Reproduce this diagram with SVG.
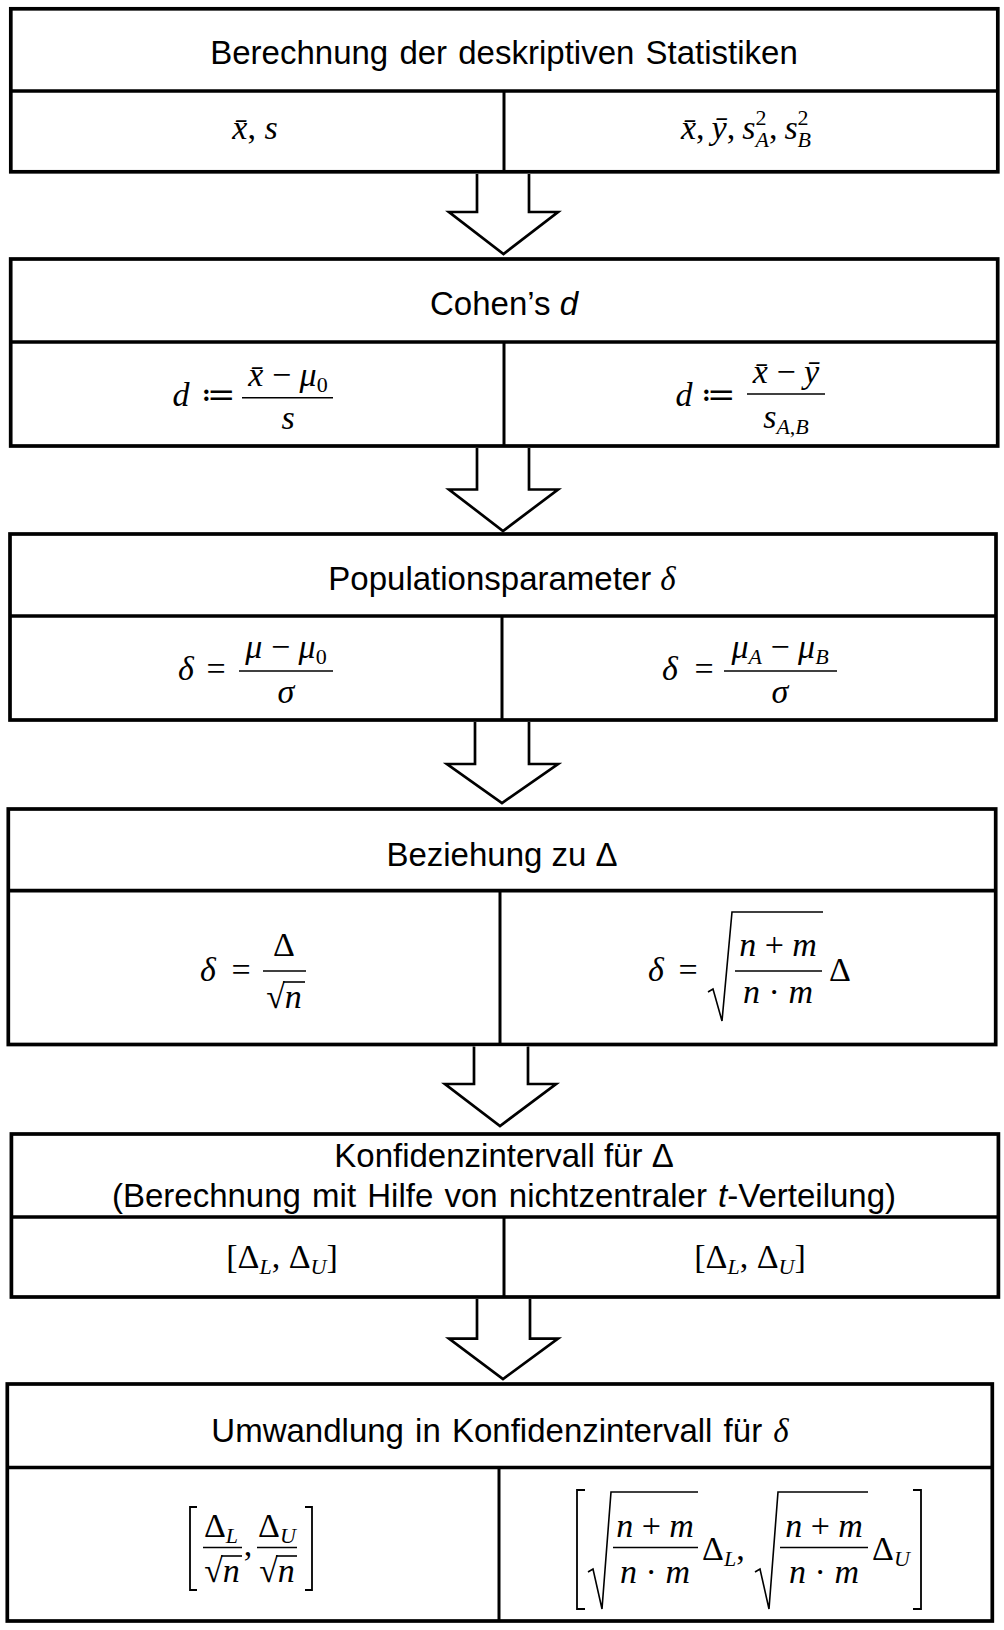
<svg xmlns="http://www.w3.org/2000/svg" width="1004" height="1630" viewBox="0 0 1004 1630">
<style>
.box{fill:#fff;stroke:#000;stroke-width:3.7}
.ln{stroke:#000;stroke-width:3.7}
.vl{stroke:#000;stroke-width:3}
.fb{stroke:#000;stroke-width:1.6}
.rad{fill:none;stroke:#000;stroke-width:1.6;stroke-linejoin:miter}
.brk{fill:none;stroke:#000;stroke-width:1.8}
.arr{fill:#fff;stroke:#000;stroke-width:2.7;stroke-linejoin:miter}
.h{font-family:"Liberation Sans",Arial,sans-serif;font-size:33px;text-anchor:middle;fill:#000}
.m{font-family:"Liberation Serif","DejaVu Serif",serif;font-style:italic;font-size:34px;text-anchor:middle;fill:#000}
.st{text-anchor:start}
.u{font-style:normal}
.s{font-size:22px}
.it{font-style:italic}
.gs{font-family:"Liberation Serif","DejaVu Serif",serif;font-style:italic}
</style>
<rect width="1004" height="1630" fill="#fff"/>

<g id="node1">
<rect class="box" x="10.8" y="8.8" width="987" height="163"/>
<line class="ln" x1="10.8" y1="91" x2="997.8" y2="91"/>
<line class="vl" x1="504" y1="91" x2="504" y2="172"/>
<text class="h" x="504" y="64" word-spacing="2">Berechnung der deskriptiven Statistiken</text>
<text class="m" x="255" y="139">x̄<tspan class="u">, </tspan>s</text>
<text class="m st" x="681" y="139">x̄<tspan class="u">,</tspan><tspan dx="7">ȳ</tspan><tspan class="u">,</tspan><tspan dx="7">s</tspan><tspan class="s u" dy="-14">2</tspan><tspan class="s" dx="-11" dy="22">A</tspan><tspan class="u" dy="-8">,</tspan><tspan dx="7">s</tspan><tspan class="s u" dy="-14">2</tspan><tspan class="s" dx="-11" dy="22">B</tspan></text>
</g>

<g id="node2">
<rect class="box" x="10.7" y="259" width="987" height="187"/>
<line class="ln" x1="10.7" y1="342" x2="997.7" y2="342"/>
<line class="vl" x1="504" y1="342" x2="504" y2="446"/>
<text class="h" x="504" y="315">Cohen’s <tspan class="it">d</tspan></text>
<text class="m" x="181" y="406">d</text>
<text class="m u" x="218" y="406">≔</text>
<line class="fb" x1="242" y1="397.7" x2="333" y2="397.7"/>
<text class="m" x="288" y="386">x̄<tspan class="u"> − </tspan>μ<tspan class="s u" dy="6">0</tspan></text>
<text class="m" x="288" y="429">s</text>
<text class="m" x="684" y="406">d</text>
<text class="m u" x="718" y="406">≔</text>
<line class="fb" x1="747" y1="394" x2="825" y2="394"/>
<text class="m" x="786" y="383">x̄<tspan class="u"> − </tspan>ȳ</text>
<text class="m" x="786" y="428">s<tspan class="s" dy="6">A<tspan class="u">,</tspan>B</tspan></text>
</g>

<g id="node3">
<rect class="box" x="10" y="534" width="986" height="186"/>
<line class="ln" x1="10" y1="616" x2="996" y2="616"/>
<line class="vl" x1="502" y1="616" x2="502" y2="720"/>
<text class="h" x="502" y="590">Populationsparameter <tspan class="gs">δ</tspan></text>
<text class="m" x="186" y="680">δ</text>
<text class="m u" x="216" y="680">=</text>
<line class="fb" x1="239" y1="671" x2="333" y2="671"/>
<text class="m" x="286" y="658">μ<tspan class="u"> − </tspan>μ<tspan class="s u" dy="6">0</tspan></text>
<text class="m" x="286" y="703">σ</text>
<text class="m" x="670" y="680">δ</text>
<text class="m u" x="704" y="680">=</text>
<line class="fb" x1="724" y1="671" x2="837" y2="671"/>
<text class="m" x="780" y="658">μ<tspan class="s" dy="6">A</tspan><tspan class="u" dy="-6"> − </tspan>μ<tspan class="s" dy="6">B</tspan></text>
<text class="m" x="780" y="703">σ</text>
</g>

<g id="node4">
<rect class="box" x="8.3" y="809" width="987.4" height="235.5"/>
<line class="ln" x1="8.3" y1="890.7" x2="995.7" y2="890.7"/>
<line class="vl" x1="500" y1="890.7" x2="500" y2="1044.5"/>
<text class="h" x="502" y="866">Beziehung zu Δ</text>
<text class="m" x="208" y="981">δ</text>
<text class="m u" x="241" y="981">=</text>
<line class="fb" x1="263" y1="971" x2="306" y2="971"/>
<text class="m u" x="284" y="956">Δ</text>
<text class="m" x="284" y="1008"><tspan class="u">√</tspan>n</text>
<line class="fb" x1="283" y1="982" x2="305" y2="982"/>
<text class="m" x="656" y="981">δ</text>
<text class="m u" x="688" y="981">=</text>
<path class="rad" d="M708,992 L713,989 L722,1021 L732,912 H823"/>
<line class="fb" x1="735" y1="971" x2="822" y2="971"/>
<text class="m" x="778" y="956">n<tspan class="u"> + </tspan>m</text>
<text class="m" x="778" y="1003">n<tspan class="u"> · </tspan>m</text>
<text class="m u" x="840" y="981">Δ</text>
</g>

<g id="node5">
<rect class="box" x="11.4" y="1134" width="987" height="163"/>
<line class="ln" x1="11.4" y1="1217" x2="998.4" y2="1217"/>
<line class="vl" x1="504" y1="1217" x2="504" y2="1297"/>
<text class="h" x="504" y="1167">Konfidenzintervall für Δ</text>
<text class="h" x="504" y="1207" word-spacing="2">(Berechnung mit Hilfe von nichtzentraler <tspan class="it">t</tspan>-Verteilung)</text>
<text class="m" x="282" y="1268"><tspan class="u">[Δ</tspan><tspan class="s" dy="6">L</tspan><tspan class="u" dy="-6">, Δ</tspan><tspan class="s" dy="6">U</tspan><tspan class="u" dy="-6">]</tspan></text>
<text class="m" x="750" y="1268"><tspan class="u">[Δ</tspan><tspan class="s" dy="6">L</tspan><tspan class="u" dy="-6">, Δ</tspan><tspan class="s" dy="6">U</tspan><tspan class="u" dy="-6">]</tspan></text>
</g>

<g id="node6">
<rect class="box" x="7.3" y="1384" width="985" height="237"/>
<line class="ln" x1="7.3" y1="1467.5" x2="992.3" y2="1467.5"/>
<line class="vl" x1="499" y1="1467.5" x2="499" y2="1621"/>
<text class="h" x="500" y="1442" word-spacing="2">Umwandlung in Konfidenzintervall für <tspan class="gs">δ</tspan></text>
<path class="brk" d="M197,1507 H190 V1590 H197"/>
<path class="brk" d="M305,1507 H312 V1590 H305"/>
<text class="m" x="221" y="1537"><tspan class="u">Δ</tspan><tspan class="s" dy="6">L</tspan></text>
<line class="fb" x1="203" y1="1547.5" x2="242" y2="1547.5"/>
<text class="m" x="222" y="1582"><tspan class="u">√</tspan>n</text>
<line class="fb" x1="221" y1="1556" x2="242" y2="1556"/>
<text class="m u" x="248" y="1556">,</text>
<text class="m" x="277" y="1537"><tspan class="u">Δ</tspan><tspan class="s" dy="6">U</tspan></text>
<line class="fb" x1="257" y1="1547.5" x2="297" y2="1547.5"/>
<text class="m" x="277" y="1582"><tspan class="u">√</tspan>n</text>
<line class="fb" x1="276" y1="1556" x2="297" y2="1556"/>
<path class="brk" d="M585,1490 H577 V1609 H585"/>
<path class="brk" d="M913,1490 H921 V1609 H913"/>
<path class="rad" d="M588,1572 L593,1569 L602,1609 L611,1492 H698"/>
<line class="fb" x1="613" y1="1547.5" x2="698" y2="1547.5"/>
<text class="m" x="655" y="1537">n<tspan class="u"> + </tspan>m</text>
<text class="m" x="655" y="1583">n<tspan class="u"> · </tspan>m</text>
<text class="m st" x="702" y="1560"><tspan class="u">Δ</tspan><tspan class="s" dy="6">L</tspan><tspan class="u" dy="-6">,</tspan></text>
<path class="rad" d="M755,1572 L760,1569 L769,1609 L778,1492 H868"/>
<line class="fb" x1="780" y1="1547.5" x2="868" y2="1547.5"/>
<text class="m" x="824" y="1537">n<tspan class="u"> + </tspan>m</text>
<text class="m" x="824" y="1583">n<tspan class="u"> · </tspan>m</text>
<text class="m st" x="872" y="1560"><tspan class="u">Δ</tspan><tspan class="s" dy="6">U</tspan></text>
</g>

<g id="connectors">
<polyline class="arr" points="477,174 477,212 449,212 503.5,254 558,212 529,212 529,174"/>
<polyline class="arr" points="477,448 477,489.5 449,489.5 503,531 558,489.5 529,489.5 529,448"/>
<polyline class="arr" points="475,722 475,764 447,764 502,803 558,764 529,764 529,722"/>
<polyline class="arr" points="474,1046.5 474,1084 445,1084 500,1126 556,1084 528,1084 528,1046.5"/>
<polyline class="arr" points="477,1299 477,1338.6 449,1338.6 503,1379 558,1338.6 530,1338.6 530,1299"/>
</g>
</svg>
